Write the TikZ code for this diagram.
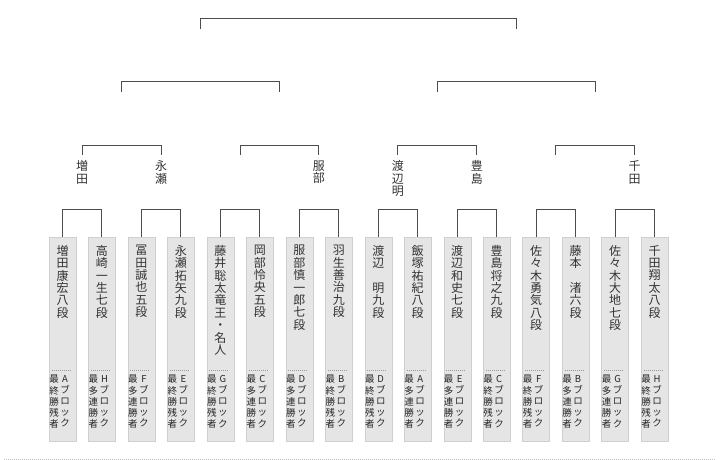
\documentclass[tikz,border=0pt]{standalone}
\usepackage{fontspec}
\newfontfamily\jpfont{Noto Sans CJK JP}
\usetikzlibrary{positioning}

\def\zs{最\\終\\勝\\残\\者}
\def\rs{最\\多\\連\\勝\\者}

\tikzset{
  playerbox/.style={draw=black!19, fill=black!10, minimum width=27pt, minimum height=204pt, inner sep=0pt, anchor=north},
  pname/.style={font=\jpfont\fontsize{12}{12.4}\selectfont, align=center, inner sep=0pt, anchor=north, text=black!80},
  pnote/.style={font=\jpfont\fontsize{9.5}{11.2}\selectfont, align=center, inner sep=0pt, anchor=north, text=black!85},
  bracket/.style={draw=black!70, line width=1pt},
  sepline/.style={draw=black!40, line width=0.8pt, dash pattern=on 1pt off 1pt}
}

\begin{document}
\begin{tikzpicture}[x=1pt, y=-1pt]
  \useasboundingbox (0,0) rectangle (720,460);
  \foreach \i/\nm/\blk/\kind in {
    1/{増\\田\\康\\宏\\八\\段}/A/\zs,
    2/{高\\崎\\一\\生\\七\\段}/H/\rs,
    3/{冨\\田\\誠\\也\\五\\段}/F/\rs,
    4/{永\\瀬\\拓\\矢\\九\\段}/E/\zs,
    5/{藤\\井\\聡\\太\\竜\\王\\・\\名\\人}/G/\zs,
    6/{岡\\部\\怜\\央\\五\\段}/C/\rs,
    7/{服\\部\\慎\\一\\郎\\七\\段}/D/\rs,
    8/{羽\\生\\善\\治\\九\\段}/B/\zs,
    9/{渡\\辺\\　\\明\\九\\段}/D/\zs,
    10/{飯\\塚\\祐\\紀\\八\\段}/A/\rs,
    11/{渡\\辺\\和\\史\\七\\段}/E/\rs,
    12/{豊\\島\\将\\之\\九\\段}/C/\zs,
    13/{佐\\々\\木\\勇\\気\\八\\段}/F/\zs,
    14/{藤\\本\\　\\渚\\六\\段}/B/\rs,
    15/{佐\\々\\木\\大\\地\\七\\段}/G/\rs,
    16/{千\\田\\翔\\太\\八\\段}/H/\zs}{
    \node[playerbox] (p\i) at ({62.5+39.47*(\i-1)},237) {};
    \node[pname] (n\i) at ([yshift=-8pt]p\i.north) {\nm};
    \draw[sepline] ([xshift=-11pt,yshift=-133pt]p\i.north) -- ++(20,0);
    \node[pnote] (k\i) at ([xshift=-8.5pt,yshift=-138pt]p\i.north) {\kind};
    \node[pnote] (b\i) at ([xshift=2.5pt,yshift=-138pt]p\i.north) {\blk\\ブ\\ロ\\ッ\\ク};
  }
  \foreach \a/\b in {1/2,3/4,5/6,7/8,9/10,11/12,13/14,15/16}
    \draw[bracket] (p\a.north) -- ++(0,-28) -| (p\b.north);

  \foreach \k in {1,...,8}
    \coordinate (m\k) at ({82.2+78.93*(\k-1)},155);
  \foreach \a/\b in {1/2,3/4,5/6,7/8}
    \draw[bracket] (m\a) -- ++(0,-9.3) -| (m\b);
  \node[pname] (w1) at ([yshift=-5.5pt]m1) {増\\田};
  \node[pname] (w2) at ([yshift=-5.5pt]m2) {永\\瀬};
  \node[pname] (w4) at ([yshift=-5.5pt]m4) {服\\部};
  \node[pname] (w5) at ([yshift=-5.5pt]m5) {渡\\辺\\明};
  \node[pname] (w6) at ([yshift=-5.5pt]m6) {豊\\島};
  \node[pname] (w8) at ([yshift=-5.5pt]m8) {千\\田};

  \foreach \k in {1,...,4}
    \coordinate (q\k) at ({121.7+157.87*(\k-1)},91.7);
  \draw[bracket] (q1) -- ++(0,-10) -| (q2);
  \draw[bracket] (q3) -- ++(0,-10) -| (q4);
  \coordinate (t1) at (200.6,29);
  \coordinate (t2) at (516.4,29);
  \draw[bracket] (t1) -- ++(0,-10) -| (t2);

  \draw[black!25, dash pattern=on 1pt off 1pt] (4,459) -- (716,459);
\end{tikzpicture}
\end{document}
